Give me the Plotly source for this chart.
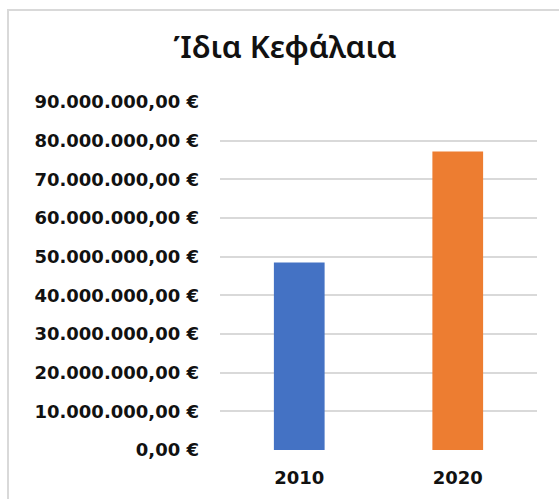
import plotly.graph_objects as go

# Equity (Ίδια Κεφάλαια) by year, in euros
years = ["2010", "2020"]
equity = [48_500_000, 77_200_000]
bar_colors = ["#4472C4", "#ED7D31"]

tick_values = [i * 10_000_000 for i in range(10)]


def euro_label(v):
    # Greek number format: dot for thousands, comma for decimals
    s = f"{v:,.2f}"
    s = s.replace(",", "X").replace(".", ",").replace("X", ".")
    return f"{s} €"


tick_labels = [euro_label(v) for v in tick_values]

fig = go.Figure(
    go.Bar(
        x=years,
        y=equity,
        marker=dict(color=bar_colors, line=dict(width=0)),
        hovertemplate="%{x}: %{y:,.2f} €<extra></extra>",
    )
)

# plot area geometry (pixels) used to place the outer frame
W, H = 559, 499
ml, mr, mt, mb = 220, 22, 102, 49
pw, ph = W - ml - mr, H - mt - mb


def px_x(x):
    return (x - ml) / pw


def px_y(y):
    return (H - mb - y) / ph


fig.update_layout(
    width=W,
    height=H,
    margin=dict(l=ml, r=mr, t=mt, b=mb),
    paper_bgcolor="white",
    plot_bgcolor="white",
    showlegend=False,
    bargap=0.68,
    title=dict(
        text="Ίδια Κεφάλαια",
        x=285 / W,
        xanchor="center",
        y=1 - 47 / H,
        yanchor="middle",
        font=dict(family="Noto Sans", size=31, color="#111111", weight=600),
    ),
    xaxis=dict(
        showgrid=False,
        showline=False,
        zeroline=False,
        tickfont=dict(family="DejaVu Sans", size=18, color="#111111", weight="bold"),
        ticks="",
        ticklabelstandoff=15,
    ),
    yaxis=dict(
        range=[0, 90_000_000],
        tickvals=tick_values,
        ticktext=tick_labels,
        showgrid=True,
        gridcolor="#d9d9d9",
        gridwidth=1.5,
        zeroline=False,
        showline=False,
        ticks="",
        ticklabelstandoff=20,
        tickfont=dict(family="DejaVu Sans", size=18, color="#111111", weight="bold"),
    ),
    shapes=[
        dict(
            type="rect",
            xref="paper",
            yref="paper",
            x0=px_x(8),
            x1=px_x(580),
            y0=px_y(520),
            y1=px_y(10),
            line=dict(color="#d9d9d9", width=2),
            fillcolor="rgba(0,0,0,0)",
            layer="below",
        )
    ],
)

fig.write_html("out.html")
